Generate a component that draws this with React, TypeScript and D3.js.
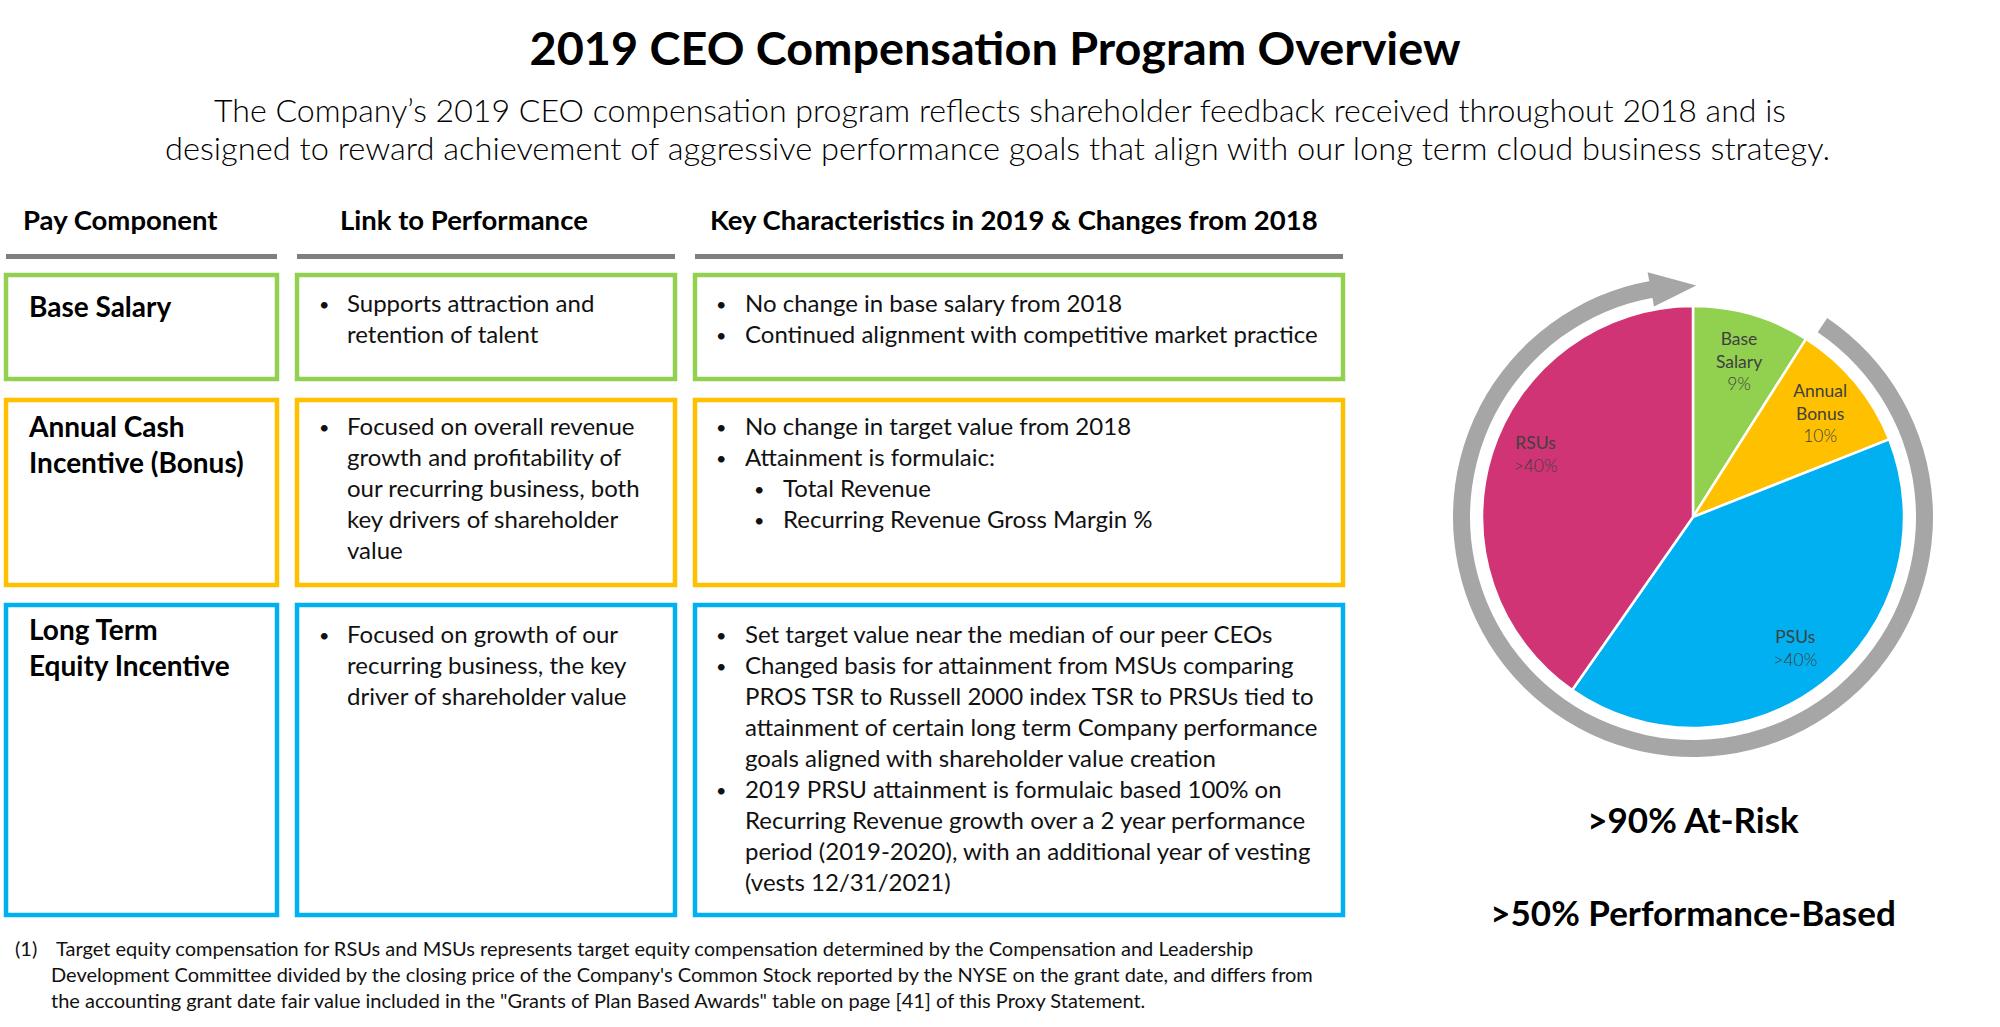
import React from "react";
import * as d3 from "d3";

// ---------- data ----------
const title = "2019 CEO Compensation Program Overview";
const subtitleLines = [
  "The Company’s 2019 CEO compensation program reflects shareholder feedback received throughout 2018 and is",
  "designed to reward achievement of aggressive performance goals that align with our long term cloud business strategy.",
];
const columnHeaders = ["Pay Component", "Link to Performance", "Key Characteristics in 2019 & Changes from 2018"];
const rowNames = [["Base Salary"], ["Annual Cash", "Incentive (Bonus)"], ["Long Term", "Equity Incentive"]];
const linkBullets = [
  [["Supports attraction and", "retention of talent"]],
  [["Focused on overall revenue", "growth and profitability of", "our recurring business, both", "key drivers of shareholder", "value"]],
  [["Focused on growth of our", "recurring business, the key", "driver of shareholder value"]],
];
const keyLevels = [
  [0, 0],
  [0, 0, 1, 1],
  [0, 0, 0],
];
const keyBullets = [
  [["No change in base salary from 2018"], ["Continued alignment with competitive market practice"]],
  [["No change in target value from 2018"], ["Attainment is formulaic:"], ["Total Revenue"], ["Recurring Revenue Gross Margin %"]],
  [
    ["Set target value near the median of our peer CEOs"],
    [
      "Changed basis for attainment from MSUs comparing",
      "PROS TSR to Russell 2000 index TSR to PRSUs tied to",
      "attainment of certain long term Company performance",
      "goals aligned with shareholder value creation",
    ],
    [
      "2019 PRSU attainment is formulaic based 100% on",
      "Recurring Revenue growth over a 2 year performance",
      "period (2019-2020), with an additional year of vesting",
      "(vests 12/31/2021)",
    ],
  ],
];
const sliceNames = ["Base Salary", "Annual Bonus", "PSUs", "RSUs"];
const sliceValues = [9, 10, 40.7, 40.3];
const sliceTitles = [["Base", "Salary"], ["Annual", "Bonus"], ["PSUs"], ["RSUs"]];
const slicePercents = ["9%", "10%", ">40%", ">40%"];
const keyStats = [">90% At-Risk", ">50% Performance-Based"];
const footnoteMarker = "(1)";
const footnoteLines = [
  "Target equity compensation for RSUs and MSUs represents target equity compensation determined by the Compensation and Leadership",
  "Development Committee divided by the closing price of the Company's Common Stock reported by the NYSE on the grant date, and differs from",
  "the accounting grant date fair value included in the \"Grants of Plan Based Awards\" table on page [41] of this Proxy Statement.",
];

// ---------- style ----------
const FONT = "Lato, 'Open Sans', sans-serif";
const rowColors = ["#92D050", "#FFC000", "#00B0F0"];
const sliceColors = ["#92D050", "#FFC000", "#00B0F0", "#D13474"];
const labelNudge: Record<string, number> = { "Base Salary": 3, "Annual Bonus": 2, PSUs: 2, RSUs: -13 };
const colX0 = [6, 297, 695];
const colX1 = [277, 675, 1343];
const headerX = [23, 340, 710];
const rowTop = [275, 400, 605];
const rowBottom = [379, 585, 915];
const rowNameBase = [317, 437, 640];
const rowBodyBase = [312, 435, 643];
const BODY = 24;
const LH = 31;

export default function App() {
  const cx = 1693;
  const cy = 517;
  const R = 211;
  const deg = Math.PI / 180;
  const pie = d3.pie<number>().sort(null).value((d) => d)(sliceValues);
  const arc = d3.arc<d3.PieArcDatum<number>>().innerRadius(0).outerRadius(R);
  const labelArc = d3.arc<d3.PieArcDatum<number>>().innerRadius(165).outerRadius(165);
  const ring = d3.arc()({ innerRadius: 223, outerRadius: 240, startAngle: 34 * deg, endAngle: 350 * deg } as any) as string;
  const pt = (a: number, r: number) => [r * Math.sin(a), -r * Math.cos(a)];
  const head = [pt(349.5 * deg, 214), pt(360.8 * deg, 231.5), pt(349.5 * deg, 249)];
  const headPath = d3.line()(head as [number, number][]) + "Z";

  const bullet = (x: number, y: number) => (
    <text x={x} y={y} fontSize={18}>
      •
    </text>
  );

  return (
    <svg
      width={2000}
      height={1027}
      viewBox="0 0 2000 1027"
      style={{ position: "absolute", left: 0, top: 0, display: "block", background: "#fff" }}
      fontFamily={FONT}
    >
      <rect width={2000} height={1027} fill="#fff" />
      {/* title */}
      <text x={995} y={65} textAnchor="middle" fontSize={46} fontWeight={700} fill="#000" textLength={931} lengthAdjust="spacingAndGlyphs">
        {title}
      </text>
      {subtitleLines.map((s, i) => (
        <text
          key={i}
          x={i === 0 ? 1000 : 997.5}
          y={i === 0 ? 122 : 160}
          textAnchor="middle"
          fontSize={30.5}
          fontWeight={300}
          fill="#000"
          textLength={i === 0 ? 1572 : 1665}
          lengthAdjust="spacingAndGlyphs"
        >
          {s}
        </text>
      ))}

      {/* column headers and rules */}
      {columnHeaders.map((h, i) => (
        <g key={i}>
          <text x={headerX[i]} y={230} fontSize={27.5} fontWeight={700} fill="#000">
            {h}
          </text>
          <rect x={colX0[i]} y={254} width={colX1[i] - colX0[i]} height={5} fill="#7F7F7F" />
        </g>
      ))}

      {/* rows */}
      {rowNames.map((names, r) => (
        <g key={r}>
          {colX0.map((x0, c) => (
            <rect
              key={c}
              x={x0}
              y={rowTop[r]}
              width={colX1[c] - x0}
              height={rowBottom[r] - rowTop[r]}
              fill="none"
              stroke={rowColors[r]}
              strokeWidth={4.5}
            />
          ))}
          {names.map((n, i) => (
            <text key={i} x={29} y={rowNameBase[r] + i * 36} fontSize={28} fontWeight={700} fill="#000">
              {n}
            </text>
          ))}
          {(() => {
            let line = 0;
            return linkBullets[r].map((b, bi) => {
              const start = line;
              line += b.length;
              return (
                <g key={bi} fontSize={BODY} fill="#111">
                  {bullet(colX0[1] + 22, rowBodyBase[r] + start * LH - 1)}
                  {b.map((t, ti) => (
                    <text key={ti} x={colX0[1] + 50} y={rowBodyBase[r] + (start + ti) * LH}>
                      {t}
                    </text>
                  ))}
                </g>
              );
            });
          })()}
          {(() => {
            let line = 0;
            return keyBullets[r].map((b, bi) => {
              const start = line;
              line += b.length;
              const lvl = keyLevels[r][bi];
              return (
                <g key={bi} fontSize={BODY} fill="#111">
                  {bullet(colX0[2] + 21 + lvl * 38, rowBodyBase[r] + start * LH - 1)}
                  {b.map((t, ti) => (
                    <text key={ti} x={colX0[2] + 50 + lvl * 38} y={rowBodyBase[r] + (start + ti) * LH}>
                      {t}
                    </text>
                  ))}
                </g>
              );
            });
          })()}
        </g>
      ))}

      {/* footnote */}
      <g fontSize={20} fill="#111">
        <text x={15} y={956}>{footnoteMarker}</text>
        {footnoteLines.map((t, i) => (
          <text key={i} x={i === 0 ? 56 : 51} y={956 + i * 26}>
            {t}
          </text>
        ))}
      </g>

      {/* pie */}
      <g transform={`translate(${cx},${cy})`}>
        <path d={ring} fill="#A6A6A6" />
        <path d={headPath} fill="#A6A6A6" />
        {pie.map((p, i) => (
          <path key={sliceNames[i]} d={arc(p) as string} fill={sliceColors[i]} stroke="#fff" strokeWidth={2.5} strokeLinejoin="round" />
        ))}
        {pie.map((p, i) => {
          const [lx, ly0] = labelArc.centroid(p);
          const ly = ly0 + (labelNudge[sliceNames[i]] || 0);
          const lines = [...sliceTitles[i], slicePercents[i]];
          const n = lines.length;
          return (
            <g key={i} textAnchor="middle" fill="#404040" fontSize={17.5}>
              {lines.map((t, j) => (
                <text key={j} x={lx} y={ly + (j - (n - 1) / 2) * 22.5 + 6} fontWeight={j === n - 1 ? 300 : 400}>
                  {t}
                </text>
              ))}
            </g>
          );
        })}
      </g>

      {/* key stats */}
      {keyStats.map((s, i) => (
        <text key={i} x={cx} y={i === 0 ? 833 : 926} textAnchor="middle" fontSize={35} fontWeight={700} fill="#000">
          {s}
        </text>
      ))}
    </svg>
  );
}
